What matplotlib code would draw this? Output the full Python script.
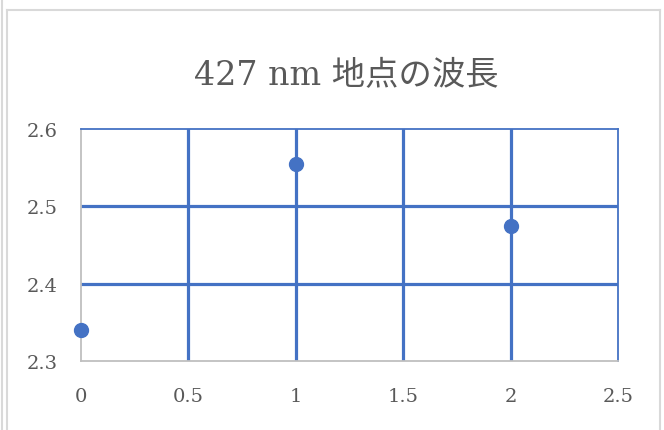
import matplotlib.pyplot as plt
from matplotlib.lines import Line2D

# Data
x_vals = [0, 1, 2]
wavelength = [2.34, 2.555, 2.475]
x_ticks = [0, 0.5, 1, 1.5, 2, 2.5]
y_ticks = [2.3, 2.4, 2.5, 2.6]
title = '427 nm 地点の波長'

BLUE = '#4472C4'
GRAY_TEXT = '#595959'
GRAY_LINE = '#BFBFBF'

plt.rcParams['font.family'] = ['DejaVu Serif', 'Noto Sans CJK JP']

fig = plt.figure(figsize=(6.64, 4.31), dpi=100)
ax = fig.add_axes([81 / 664, 1 - 362 / 431, 537 / 664, 232 / 431])

# gridlines drawn by hand so they sit under the markers
for xv in x_ticks[1:-1]:
    ax.axvline(xv, color=BLUE, lw=2.3, zorder=1)
for yv in y_ticks[1:-1]:
    ax.axhline(yv, color=BLUE, lw=2.3, zorder=1)

ax.plot(x_vals, wavelength, 'o', color=BLUE, markersize=10, clip_on=False, zorder=3)

ax.set_xlim(0, 2.5)
ax.set_ylim(2.3, 2.6)
ax.set_xticks(x_ticks)
ax.set_xticklabels(['0', '0.5', '1', '1.5', '2', '2.5'])
ax.set_yticks(y_ticks)
ax.set_yticklabels(['2.3', '2.4', '2.5', '2.6'])
ax.tick_params(length=0, labelsize=14, labelcolor=GRAY_TEXT)
ax.tick_params(axis='x', pad=19)
ax.tick_params(axis='y', pad=17)

for side in ['left', 'bottom']:
    ax.spines[side].set_color(GRAY_LINE)
    ax.spines[side].set_linewidth(1.3)
for side in ['top', 'right']:
    ax.spines[side].set_color(BLUE)
    ax.spines[side].set_linewidth(1.3)

fig.text(346 / 664, 1 - 75 / 431, title, ha='center', va='center',
         fontsize=24, color=GRAY_TEXT)

# chart frame
frame = dict(color='#D9D9D9', lw=1.5, transform=fig.transFigure)
fig.add_artist(Line2D([2 / 664, 2 / 664], [0, 1], **frame))
fig.add_artist(Line2D([7 / 664, 7 / 664], [0, 1 - 11 / 431], **frame))
fig.add_artist(Line2D([7 / 664, 660 / 664], [1 - 11 / 431, 1 - 11 / 431], **frame))
fig.add_artist(Line2D([660 / 664, 660 / 664], [0, 1 - 11 / 431], **frame))

fig.savefig('out.png', dpi=100)
